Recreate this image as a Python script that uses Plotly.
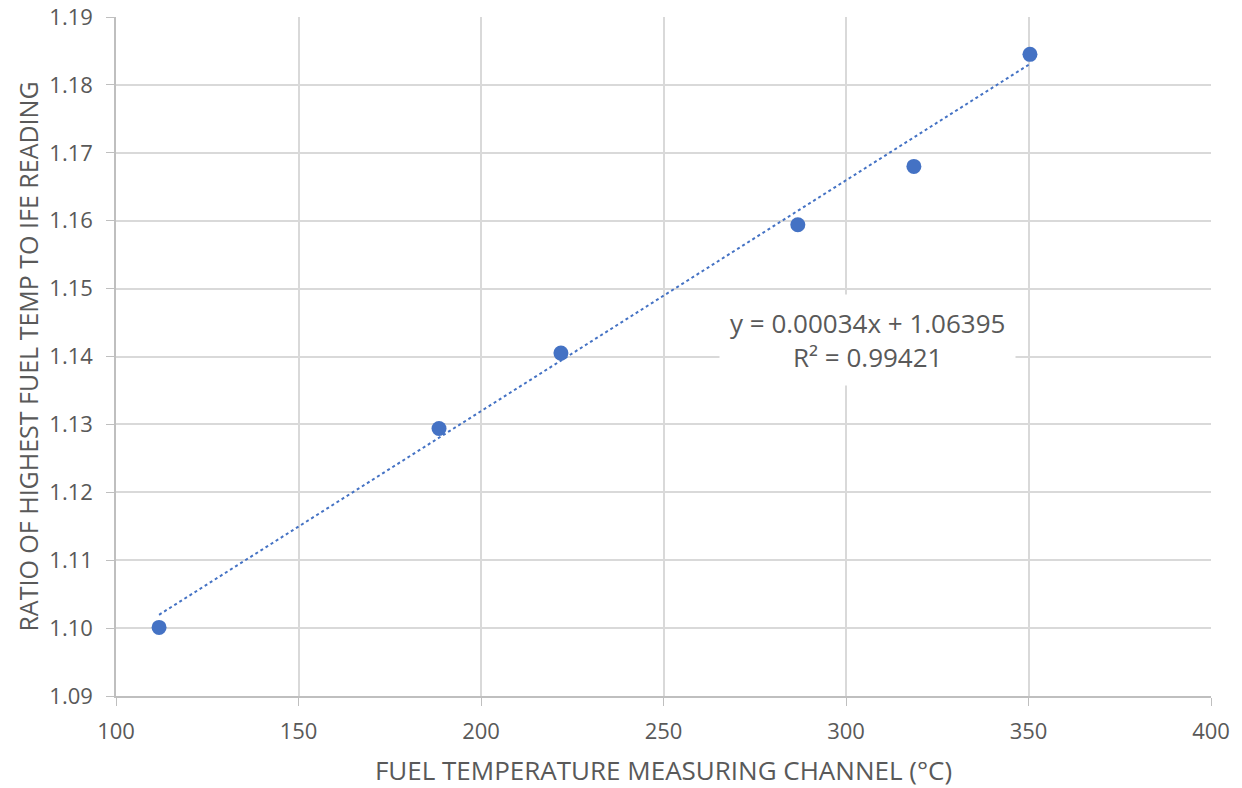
import numpy as np
import plotly.graph_objects as go

# Data
channel_temp = [111.8, 188.5, 221.9, 286.8, 318.6, 350.4]
ratio = [1.1001, 1.1294, 1.1405, 1.1594, 1.1680, 1.1845]
slope = 0.00034
intercept = 1.06395
r_squared = 0.99421
x_ticks = [100, 150, 200, 250, 300, 350, 400]
y_ticks = [1.09, 1.10, 1.11, 1.12, 1.13, 1.14, 1.15, 1.16, 1.17, 1.18, 1.19]

trend_x = [min(channel_temp), max(channel_temp)]
trend_y = [slope * v + intercept for v in trend_x]

fig = go.Figure()
fig.add_trace(go.Scatter(
    x=trend_x, y=trend_y, mode="lines",
    line=dict(color="#4472C4", width=2, dash="dot"),
    hoverinfo="skip", showlegend=False))
fig.add_trace(go.Scatter(
    x=channel_temp, y=ratio, mode="markers",
    marker=dict(color="#4472C4", size=15),
    showlegend=False))

fig.add_annotation(
    x=306, y=1.1424, xref="x", yref="y",
    text=f"y = {slope:.5f}x + {intercept:.5f}<br>R² = {r_squared:.5f}",
    showarrow=False, bgcolor="white", borderpad=10,
    font=dict(size=26, color="#595959", family="Open Sans"),
    align="center")

font_family = "Open Sans"
fig.update_layout(
    width=1242, height=788,
    margin=dict(l=116, r=31, t=17, b=92),
    paper_bgcolor="white", plot_bgcolor="white",
    font=dict(family=font_family, color="#595959"),
    xaxis=dict(
        range=[100, 400], tickvals=x_ticks, automargin=False,
        showgrid=True, gridcolor="#d9d9d9", gridwidth=1.5,
        showline=True, linecolor="#bfbfbf", linewidth=1.5,
        ticks="outside", ticklen=8, tickcolor="#bfbfbf",
        ticklabelstandoff=7, ticklabeloverflow="allow",
        tickfont=dict(size=22, color="#595959"),
        title=dict(text="FUEL TEMPERATURE MEASURING CHANNEL (°C)",
                   font=dict(size=26, color="#595959"), standoff=18),
        zeroline=False),
    yaxis=dict(
        range=[1.09, 1.19], tickvals=y_ticks, tickformat=".2f", automargin=False,
        showgrid=True, gridcolor="#d9d9d9", gridwidth=1.5,
        showline=True, linecolor="#bfbfbf", linewidth=1.5,
        ticks="outside", ticklen=8, tickcolor="#bfbfbf",
        ticklabelstandoff=9, ticklabeloverflow="allow",
        tickfont=dict(size=22, color="#595959"),
        title=dict(text="RATIO OF HIGHEST FUEL TEMP TO IFE READING",
                   font=dict(size=25, color="#595959"), standoff=4),
        zeroline=False),
)

fig.write_html("out.html", config={"displayModeBar": False},
               post_script="document.body.style.margin='0';")
